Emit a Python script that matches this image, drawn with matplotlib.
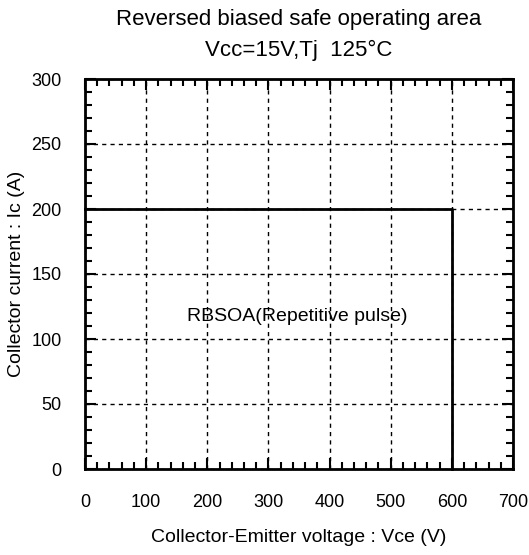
import matplotlib
matplotlib.use("Agg")
import matplotlib.pyplot as plt
from matplotlib.ticker import MultipleLocator

plt.rcParams['font.family'] = ['Liberation Sans', 'DejaVu Sans']

vce = [0, 600, 600]
ic = [200, 200, 0]
xticks = [0, 100, 200, 300, 400, 500, 600, 700]
yticks = [0, 50, 100, 150, 200, 250, 300]

fig = plt.figure(figsize=(5.29, 5.55), dpi=100)
ax = fig.add_axes([85/529, 1-469/555, (513-85)/529, (469-79)/555])
ax.plot(vce, ic, color='black', lw=2, clip_on=False, zorder=3)
ax.set_xlim(0, 700)
ax.set_ylim(0, 300)
ax.set_xticks(xticks)
ax.set_yticks(yticks)
ax.xaxis.set_minor_locator(MultipleLocator(20))
ax.yaxis.set_minor_locator(MultipleLocator(10))
ax.tick_params(which='both', direction='in', top=True, right=True, labelsize=13, colors='black')
ax.tick_params(which='major', length=8, width=1.5)
ax.tick_params(which='minor', length=5, width=1.5)
ax.tick_params(axis='x', pad=18)
ax.tick_params(axis='y', pad=17)
ax.grid(True, which='major', color='black', linestyle=(0, (3, 3)), lw=1)
for s in ax.spines.values():
    s.set_linewidth(2)
ax.text(347, 117, 'RBSOA(Repetitive pulse)', fontsize=14, ha='center', va='center')
ax.set_xlabel('Collector-Emitter voltage : Vce (V)', fontsize=14, va='center')
ax.set_ylabel('Collector current : Ic (A)', fontsize=14, va='center')
ax.xaxis.set_label_coords(0.5, (469-538)/390)
ax.yaxis.set_label_coords((17-85)/428, 0.5)
fig.text(299/529, 1-19/555, 'Reversed biased safe operating area', fontsize=16, ha='center', va='center')
fig.text(299/529, 1-50/555, 'Vcc=15V,Tj  125°C', fontsize=16, ha='center', va='center')
fig.savefig('out.png', dpi=100)
